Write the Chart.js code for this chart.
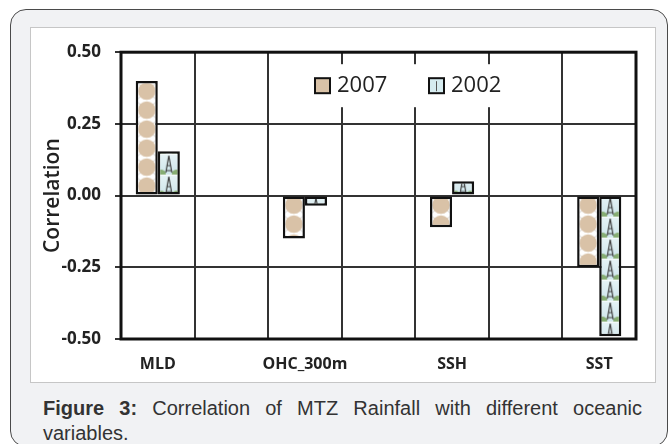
<!DOCTYPE html>
<html>
<head>
<meta charset="utf-8">
<script src="https://cdn.jsdelivr.net/npm/chart.js@4.4.1/dist/chart.umd.min.js"></script>
<style>
  html, body { margin: 0; padding: 0; background: #fff; }
  body { width: 670px; height: 444px; position: relative; overflow: hidden; }
  .card { position: absolute; left: 10px; top: 9px; width: 658px; height: 438px; box-sizing: border-box;
          border: 1.5px solid #4a4a4a; border-radius: 16px; background: #f1f2f4; }
  .panel { position: absolute; left: 30px; top: 27px; width: 626px; height: 356px; box-sizing: border-box;
           border: 1px solid #c6c6c6; background: #fff; }
  #chart { position: absolute; left: 31px; top: 28px; }
  .caption { position: absolute; left: 43px; top: 396px; width: 599px; font-family: "Liberation Sans", Arial, sans-serif;
             font-size: 20px; line-height: 25px; color: #333; }
  .caption .l1 { text-align: justify; text-align-last: justify; }
</style>
</head>
<body>
<div class="card"></div>
<div class="panel"></div>
<canvas id="chart" width="624" height="354"></canvas>
<div class="caption"><div class="l1"><b>Figure 3:</b> Correlation of MTZ Rainfall with different oceanic</div><div>variables.</div></div>

<script>
// slots as in the original sheet: blank columns between the variables
const categories = ['MLD', '', 'OHC_300m', '', 'SSH', '', 'SST'];
const corr2007 = [0.40, null, -0.15, null, -0.11, null, -0.25];
const corr2002 = [0.155, null, -0.035, null, 0.05, null, -0.49];
const yTicks = [-0.50, -0.25, 0.00, 0.25, 0.50];

const CAT_PCT = 0.6;

// bar fills: beige circles (2007) and the small tower picture (2002)
function tileCircles() {
  const c = document.createElement('canvas');
  c.width = 22; c.height = 19;
  const g = c.getContext('2d');
  g.fillStyle = '#fff';
  g.fillRect(0, 0, 22, 19);
  g.strokeStyle = '#d2d2d2';
  g.lineWidth = 1;
  g.beginPath();
  g.moveTo(0, 0); g.lineTo(22, 19);
  g.moveTo(22, 0); g.lineTo(0, 19);
  g.stroke();
  g.fillStyle = '#d9c2a7';
  g.beginPath();
  g.arc(11, 9.5, 8.8, 0, Math.PI * 2);
  g.fill();
  return c;
}

function tileTower() {
  const c = document.createElement('canvas');
  c.width = 22; c.height = 21;
  const g = c.getContext('2d');
  const grad = g.createLinearGradient(0, 0, 0, 21);
  grad.addColorStop(0, '#e6f3f6');
  grad.addColorStop(1, '#cfe6ec');
  g.fillStyle = grad;
  g.fillRect(0, 0, 22, 21);
  g.fillStyle = '#86ad72';
  g.beginPath(); g.ellipse(3, 20, 5, 4, 0, 0, Math.PI * 2); g.fill();
  g.beginPath(); g.ellipse(19, 20, 5, 4, 0, 0, Math.PI * 2); g.fill();
  g.strokeStyle = '#3f3f3f';
  g.lineWidth = 1.2;
  g.beginPath();
  g.moveTo(11, 2); g.lineTo(8, 19);
  g.moveTo(11, 2); g.lineTo(14, 19);
  g.moveTo(9, 12); g.lineTo(13, 12);
  g.moveTo(8, 17); g.lineTo(14, 17);
  g.stroke();
  g.strokeStyle = 'rgba(255,255,255,0.8)';
  g.beginPath(); g.moveTo(0, 0.5); g.lineTo(22, 0.5); g.stroke();
  return c;
}

const TILE_A = tileCircles();
const TILE_B = tileTower();

function barFill(tile, first, plain) {
  return (ctx) => {
    const chart = ctx.chart;
    const xs = chart.scales.x, ys = chart.scales.y;
    if (ctx.type !== 'data' || !xs || !ys || !xs.width) return plain;
    const center = xs.getPixelForValue(ctx.dataIndex);
    const half = (xs.width / categories.length) * CAT_PCT / 2;
    const left = first ? center - half : center;
    const pat = chart.ctx.createPattern(tile, 'repeat');
    pat.setTransform(new DOMMatrix([1, 0, 0, 1, left, ys.getPixelForValue(0)]));
    return pat;
  };
}

const framePlugin = {
  id: 'frame',
  afterDraw(chart) {
    const { ctx, chartArea: a } = chart;
    ctx.save();
    ctx.strokeStyle = '#111';
    ctx.lineWidth = 3;
    ctx.strokeRect(a.left, a.top, a.right - a.left, a.bottom - a.top);

    // legend sits inside the plot on a white patch
    ctx.fillStyle = '#fff';
    ctx.fillRect(a.left + 188, a.top + 12, 200, 43);
    const items = [
      { x: a.left + 194, fill: '#d9c2a7', label: chart.data.datasets[0].label },
      { x: a.left + 308, fill: '#d6ecf0', label: chart.data.datasets[1].label }
    ];
    const y = a.top + 26;
    items.forEach((it, i) => {
      ctx.fillStyle = it.fill;
      ctx.fillRect(it.x, y, 15, 15);
      if (i === 1) {
        ctx.strokeStyle = '#555';
        ctx.lineWidth = 1;
        ctx.beginPath();
        ctx.moveTo(it.x + 7.5, y + 3); ctx.lineTo(it.x + 7.5, y + 13);
        ctx.stroke();
      }
      ctx.strokeStyle = '#111';
      ctx.lineWidth = 2;
      ctx.strokeRect(it.x, y, 15, 15);
      ctx.fillStyle = '#222';
      ctx.font = '22px "Open Sans"';
      ctx.textBaseline = 'middle';
      ctx.textAlign = 'left';
      ctx.fillText(it.label, it.x + 22, y + 8);
    });
    ctx.restore();
  }
};

new Chart(document.getElementById('chart'), {
  type: 'bar',
  data: {
    labels: categories,
    datasets: [
      {
        label: '2007',
        data: corr2007,
        backgroundColor: barFill(TILE_A, true, '#d9c2a7'),
        borderColor: '#111',
        borderWidth: 2.5,
        borderSkipped: false
      },
      {
        label: '2002',
        data: corr2002,
        backgroundColor: barFill(TILE_B, false, '#d6ecf0'),
        borderColor: '#111',
        borderWidth: 2.5,
        borderSkipped: false
      }
    ]
  },
  options: {
    responsive: false,
    animation: false,
    devicePixelRatio: 1,
    categoryPercentage: CAT_PCT,
    barPercentage: 1.0,
    layout: { padding: { left: 0, top: 24, right: 19, bottom: 0 } },
    plugins: {
      legend: { display: false },
      tooltip: { enabled: false }
    },
    scales: {
      x: {
        grid: { offset: true, color: '#333', lineWidth: 2, drawTicks: false },
        border: { display: false },
        ticks: {
          color: '#222',
          padding: 16,
          maxRotation: 0,
          autoSkip: false,
          font: { family: 'Open Sans', size: 16, weight: 'bold' }
        },
        afterFit(scale) { scale.height = 43; }
      },
      y: {
        min: -0.5,
        max: 0.5,
        afterBuildTicks(scale) { scale.ticks = yTicks.map(v => ({ value: v })); },
        grid: { color: '#333', lineWidth: 2, tickLength: 6 },
        border: { display: false },
        ticks: {
          color: '#222',
          padding: 14,
          callback: v => v.toFixed(2),
          font: { family: 'Open Sans', size: 17, weight: 'bold' }
        },
        title: {
          display: true,
          text: 'Correlation',
          color: '#222',
          padding: { top: 9, bottom: 0 },
          font: { family: 'Open Sans', size: 21, weight: '600' }
        },
        afterFit(scale) { scale.width = 90; }
      }
    }
  },
  plugins: [framePlugin]
});
</script>
</body>
</html>
